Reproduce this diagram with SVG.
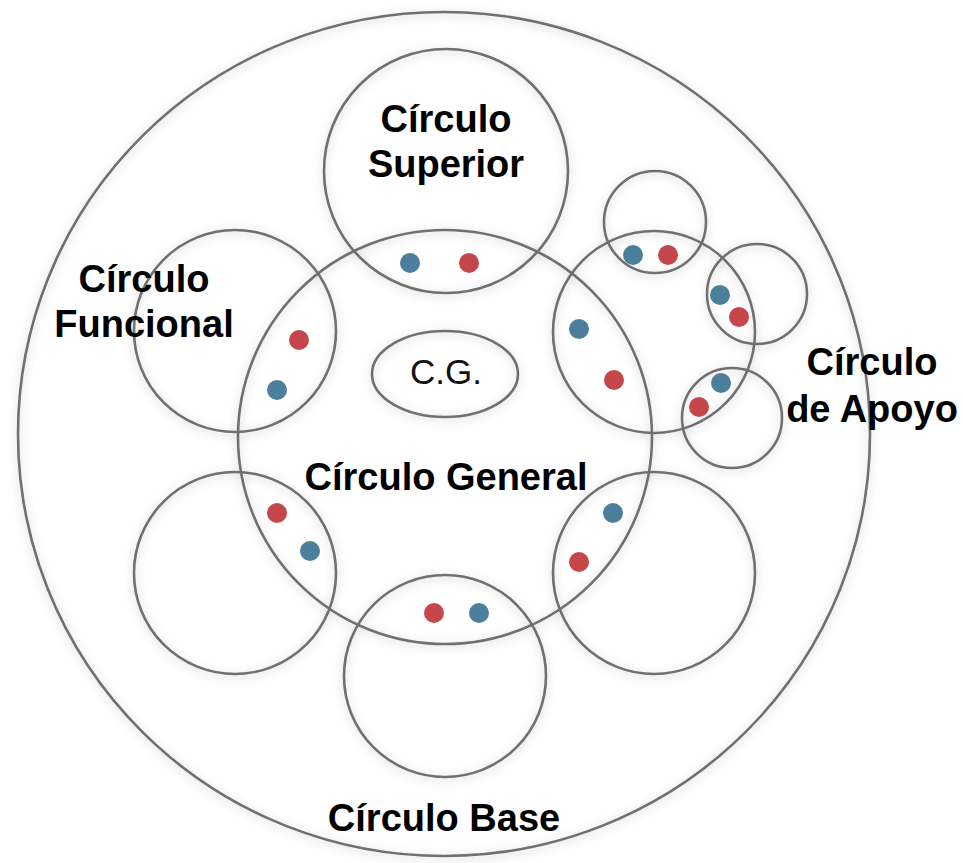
<svg xmlns="http://www.w3.org/2000/svg" width="963" height="863" viewBox="0 0 963 863">
  <defs>
    <filter id="halo" x="-10%" y="-10%" width="120%" height="120%">
      <feDropShadow dx="0" dy="2" stdDeviation="5" flood-color="#000" flood-opacity="0.22"/>
    </filter>
    <style>
      .ring { fill: none; stroke: #6f6f6f; stroke-width: 2.6; }
      .lbl { font-family: "Liberation Sans", Arial, sans-serif; font-weight: bold; font-size: 38px; fill: #000; text-anchor: middle; }
      .cg { font-family: "Liberation Sans", Arial, sans-serif; font-size: 35px; fill: #111; text-anchor: middle; }
      .blue { fill: #4b7f9b; }
      .red { fill: #c5474b; }
    </style>
  </defs>
  <rect width="963" height="863" fill="#ffffff"/>

  <g filter="url(#halo)">
    <g id="outer"><ellipse class="ring" cx="444" cy="434" rx="426" ry="422"/></g>
    <g id="general"><circle class="ring" cx="445" cy="437" r="207"/></g>
    <g id="superior"><circle class="ring" cx="446" cy="171" r="122"/></g>
    <g id="funcional"><circle class="ring" cx="235" cy="331" r="101"/></g>
    <g id="apoyo"><circle class="ring" cx="654" cy="332" r="101"/></g>
    <g id="apoyo-top"><circle class="ring" cx="655" cy="222" r="51"/></g>
    <g id="apoyo-right"><circle class="ring" cx="757" cy="294" r="50"/></g>
    <g id="apoyo-low"><circle class="ring" cx="732" cy="418" r="50"/></g>
    <g id="bottom-left"><circle class="ring" cx="235" cy="573" r="101"/></g>
    <g id="bottom-right"><circle class="ring" cx="654" cy="573" r="101"/></g>
    <g id="base"><circle class="ring" cx="445" cy="676" r="101"/></g>
    <g id="cg"><ellipse class="ring" cx="445" cy="374" rx="73" ry="43"/></g>
  </g>

  <g id="dots">
    <circle class="blue" cx="410" cy="263" r="10"/>
    <circle class="red" cx="469" cy="263" r="10"/>
    <circle class="red" cx="299" cy="340" r="10"/>
    <circle class="blue" cx="277" cy="390" r="10"/>
    <circle class="blue" cx="579" cy="329" r="10"/>
    <circle class="red" cx="614" cy="380" r="10"/>
    <circle class="blue" cx="633" cy="255" r="10"/>
    <circle class="red" cx="668" cy="255" r="10"/>
    <circle class="blue" cx="720" cy="295" r="10"/>
    <circle class="red" cx="739" cy="317" r="10"/>
    <circle class="blue" cx="721" cy="383" r="10"/>
    <circle class="red" cx="699" cy="407" r="10"/>
    <circle class="red" cx="277" cy="513" r="10"/>
    <circle class="blue" cx="310" cy="551" r="10"/>
    <circle class="blue" cx="613" cy="513" r="10"/>
    <circle class="red" cx="579" cy="562" r="10"/>
    <circle class="red" cx="434" cy="613" r="10"/>
    <circle class="blue" cx="479" cy="613" r="10"/>
  </g>

  <g id="labels">
    <text class="lbl" x="446" y="132">Círculo</text>
    <text class="lbl" x="446" y="177">Superior</text>
    <text class="lbl" x="144" y="292">Círculo</text>
    <text class="lbl" x="144" y="337">Funcional</text>
    <text class="lbl" x="872" y="375">Círculo</text>
    <text class="lbl" x="872" y="422">de Apoyo</text>
    <text class="lbl" x="446" y="490">Círculo General</text>
    <text class="lbl" x="444" y="831">Círculo Base</text>
    <text class="cg" x="446" y="384">C.G.</text>
  </g>
</svg>
